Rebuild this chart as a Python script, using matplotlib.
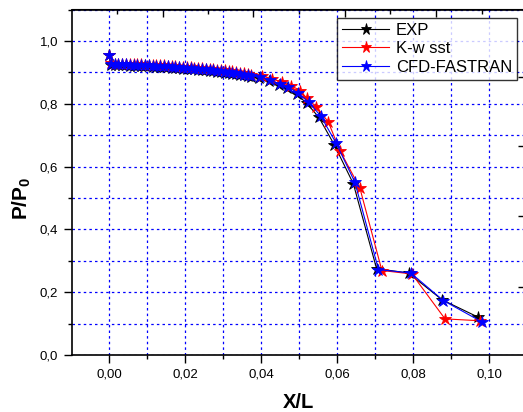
import matplotlib
matplotlib.use("Agg")
import matplotlib.pyplot as plt
from matplotlib.ticker import MultipleLocator, FixedLocator, NullFormatter

plt.rcParams['font.family'] = ['Liberation Sans', 'DejaVu Sans']
plt.rcParams['mathtext.fontset'] = 'custom'
plt.rcParams['mathtext.rm'] = 'Liberation Sans'
plt.rcParams['mathtext.bf'] = 'Liberation Sans:bold'

# ---- data ----
x_start = [0.0]
y_start = [0.955]

x_dense = [0.0005, 0.0015, 0.0025, 0.0035, 0.0045, 0.0055, 0.0065, 0.0075, 0.0085, 0.0095,
           0.0105, 0.0115, 0.0125, 0.0135, 0.0145, 0.0155, 0.0165, 0.0175, 0.0185, 0.0195,
           0.0205, 0.0215, 0.0225, 0.0235, 0.0245, 0.0255, 0.0265, 0.0275, 0.0285, 0.0295,
           0.0305, 0.0315, 0.0325, 0.0335, 0.0345, 0.0355, 0.0365, 0.0375]

cfd_dense = [0.927, 0.926, 0.926, 0.925, 0.925, 0.924, 0.924, 0.923, 0.923, 0.922,
             0.922, 0.921, 0.921, 0.920, 0.919, 0.919, 0.918, 0.917, 0.916, 0.915,
             0.914, 0.913, 0.912, 0.911, 0.910, 0.909, 0.908, 0.907, 0.905, 0.904,
             0.902, 0.901, 0.899, 0.897, 0.895, 0.893, 0.891, 0.889]
kw_dense = [0.929, 0.928, 0.928, 0.927, 0.927, 0.926, 0.926, 0.925, 0.925, 0.924,
            0.924, 0.923, 0.923, 0.922, 0.922, 0.921, 0.920, 0.919, 0.918, 0.917,
            0.917, 0.916, 0.915, 0.914, 0.913, 0.912, 0.911, 0.910, 0.908, 0.907,
            0.906, 0.904, 0.903, 0.901, 0.899, 0.897, 0.895, 0.893]
exp_dense = [0.924, 0.923, 0.923, 0.922, 0.922, 0.921, 0.921, 0.920, 0.920, 0.919,
             0.919, 0.918, 0.918, 0.917, 0.916, 0.916, 0.915, 0.914, 0.913, 0.912,
             0.911, 0.910, 0.909, 0.908, 0.907, 0.906, 0.905, 0.904, 0.902, 0.901,
             0.899, 0.898, 0.896, 0.894, 0.892, 0.890, 0.888, 0.886]

exp_x_tail = [0.0395, 0.0420, 0.0447, 0.0469, 0.0494, 0.0520, 0.0552, 0.0593, 0.0643, 0.0704, 0.0788, 0.0876, 0.0972]
exp_y_tail = [0.883, 0.872, 0.860, 0.849, 0.830, 0.802, 0.757, 0.669, 0.545, 0.275, 0.261, 0.176, 0.120]

kw_x_tail = [0.0403, 0.0430, 0.0456, 0.0480, 0.0503, 0.0520, 0.0545, 0.0577, 0.0608, 0.0660, 0.0718, 0.0797, 0.0884, 0.0976]
kw_y_tail = [0.889, 0.879, 0.869, 0.857, 0.842, 0.818, 0.791, 0.742, 0.650, 0.532, 0.269, 0.258, 0.115, 0.109]

cfd_x_tail = [0.0397, 0.0424, 0.0450, 0.0472, 0.0498, 0.0525, 0.0557, 0.0597, 0.0647, 0.0709, 0.0794, 0.0880, 0.0980]
cfd_y_tail = [0.886, 0.875, 0.863, 0.852, 0.834, 0.806, 0.761, 0.676, 0.550, 0.272, 0.261, 0.173, 0.106]

labels = ["EXP", "K-w sst", "CFD-FASTRAN"]
colors = ["black", "red", "blue"]

x_ticks = [0.00, 0.02, 0.04, 0.06, 0.08, 0.10]
x_ticklabels = ["0,00", "0,02", "0,04", "0,06", "0,08", "0,10"]
y_ticks = [0.0, 0.2, 0.4, 0.6, 0.8, 1.0]
y_ticklabels = ["0,0", "0,2", "0,4", "0,6", "0,8", "1,0"]

top_major = [0.01413, 0.03797, 0.0621, 0.08597]
top_minor = [0.00218, 0.02613, 0.05008, 0.07395, 0.09808]
right_ticks = [0.217, 0.441, 0.665, 0.885]

# ---- figure ----
W, H = 523, 412
L, R, T, B = 72, 526, 9.5, 355
fig = plt.figure(figsize=(W / 100, H / 100), dpi=100)
ax = fig.add_axes([L / W, (H - B) / H, (R - L) / W, (B - T) / H])

series = [
    (x_start + x_dense + exp_x_tail, y_start + exp_dense + exp_y_tail),
    (x_start + x_dense + kw_x_tail, y_start + kw_dense + kw_y_tail),
    (x_start + x_dense + cfd_x_tail, y_start + cfd_dense + cfd_y_tail),
]
for (xs, ys), lab, c in zip(series, labels, colors):
    ax.plot(xs, ys, color=c, lw=0.8, marker='*', markersize=9, label=lab,
            markeredgewidth=0.6, zorder=3)

ax.set_xlim(-0.0097, 0.1097)
ax.set_ylim(0, 1.1)

ax.set_xticks(x_ticks)
ax.set_xticklabels(x_ticklabels)
ax.xaxis.set_minor_locator(MultipleLocator(0.01))
ax.set_yticks(y_ticks)
ax.set_yticklabels(y_ticklabels)
ax.yaxis.set_minor_locator(MultipleLocator(0.1))

ax.tick_params(which='major', direction='out', length=6, width=1, labelsize=9.5, pad=4)
ax.tick_params(which='minor', direction='out', length=3, width=1)
ax.tick_params(top=False, right=False)

ax.grid(True, which='both', color='blue', lw=0.9, linestyle=(0, (2, 2.5)), zorder=0)
ax.set_axisbelow(True)

for s in ax.spines.values():
    s.set_linewidth(1.2)

ax.set_xlabel("X/L", fontsize=14.5, fontweight='bold')
ax.xaxis.set_label_coords((298 - L) / (R - L), (B - 393) / (B - T))
ax.set_ylabel(r"$\mathbf{P/P_0}$", fontsize=15)
ax.yaxis.set_label_coords((33 - L) / (R - L), (B - 198) / (B - T))

# mirrored top / right ticks (Origin-style)
axt = ax.secondary_xaxis('top')
axt.xaxis.set_major_locator(FixedLocator(top_major))
axt.xaxis.set_minor_locator(FixedLocator(top_minor))
axt.xaxis.set_major_formatter(NullFormatter())
axt.tick_params(which='major', direction='in', length=6, width=1)
axt.tick_params(which='minor', direction='in', length=3.5, width=1)

axr = ax.secondary_yaxis('right')
axr.yaxis.set_major_locator(FixedLocator(right_ticks))
axr.yaxis.set_major_formatter(NullFormatter())
axr.tick_params(which='major', direction='in', length=6, width=1)

leg = ax.legend(loc='upper right', bbox_to_anchor=((517 - L) / (R - L), (B - 18) / (B - T)),
                borderaxespad=0, fancybox=False, frameon=True, fontsize=12,
                handlelength=2.8, handletextpad=0.4, labelspacing=0.2, borderpad=0.3,
                markerscale=0.9)
leg.get_frame().set_edgecolor('black')
leg.get_frame().set_linewidth(1.0)

fig.savefig("out.png", dpi=100)
